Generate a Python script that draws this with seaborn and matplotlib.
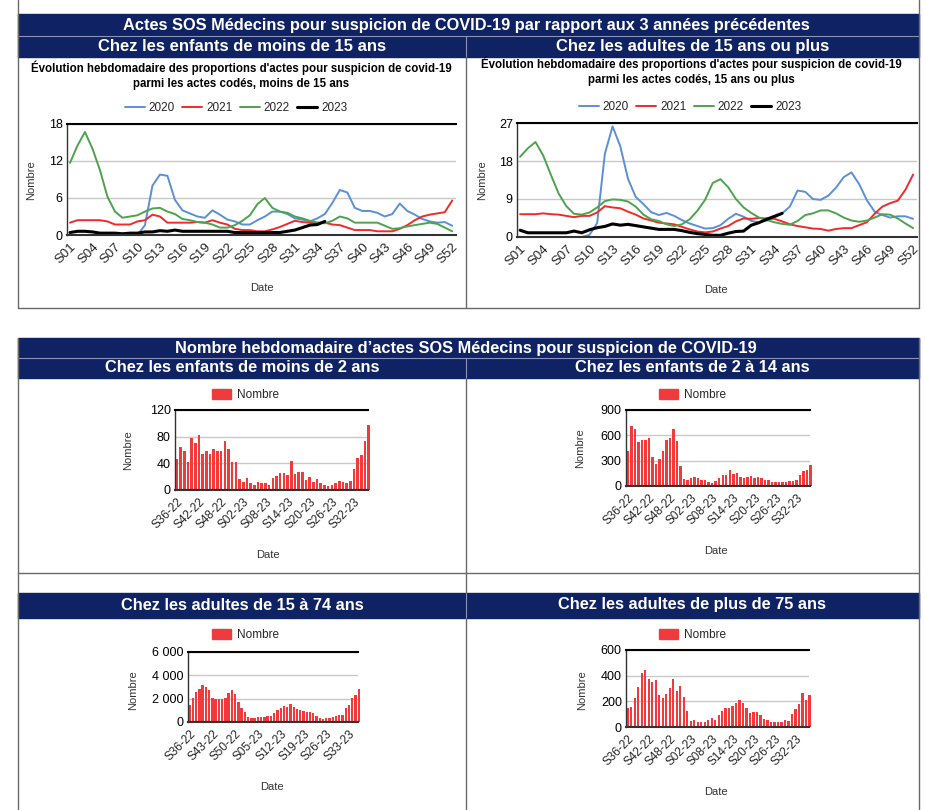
import numpy as np
import pandas as pd
import matplotlib
matplotlib.use('Agg')
import matplotlib.pyplot as plt
import seaborn as sns
from matplotlib.patches import Rectangle
from matplotlib.lines import Line2D

# figure size in pixels
W, H = 925, 810
NAVY = '#0f2263'
BAR = '#f03a3c'

# ---- weekly proportions (%), S01..S52 ----
semaines = ['S%02d' % i for i in range(1, 53)]

enf_2020 = [0, 0, 0, 0, 0, 0, 0, 0, 0, 0, 1.6, 8.0, 9.8, 9.6, 5.7, 4.0, 3.5, 3.0, 2.8, 4.0,
            3.3, 2.5, 2.2, 1.7, 1.7, 2.4, 3.0, 3.8, 3.8, 3.4, 2.7, 2.5, 2.2, 2.7, 3.4, 5.2,
            7.3, 6.9, 4.4, 3.9, 3.9, 3.6, 3.0, 3.4, 5.1, 3.9, 3.3, 2.6, 2.2, 2.0, 2.1, 1.5]
enf_2021 = [2.0, 2.4, 2.4, 2.4, 2.4, 2.2, 1.7, 1.7, 1.7, 2.2, 2.4, 3.3, 3.0, 2.0, 2.0, 2.0,
            2.0, 2.1, 2.0, 2.4, 2.0, 1.7, 1.0, 0.8, 0.8, 0.6, 0.6, 0.9, 1.3, 1.8, 2.3, 2.1,
            2.0, 2.0, 2.0, 1.7, 1.6, 1.2, 0.8, 0.8, 0.8, 0.6, 0.6, 0.6, 1.0, 1.6, 2.4, 3.0,
            3.3, 3.5, 3.7, 5.6]
enf_2022 = [11.7, 14.5, 16.7, 14.0, 10.5, 6.2, 3.8, 2.8, 3.0, 3.2, 3.8, 4.3, 4.4, 3.8, 3.4,
            2.6, 2.4, 2.1, 2.0, 1.7, 1.2, 1.2, 1.6, 2.3, 3.2, 5.0, 6.0, 4.4, 3.8, 3.6, 3.0,
            2.7, 2.3, 2.0, 1.9, 2.3, 3.0, 2.7, 2.0, 2.0, 2.0, 2.0, 1.5, 1.0, 1.1, 1.4, 1.6,
            1.8, 2.0, 1.8, 1.2, 0.6]
enf_2023 = [0.4, 0.6, 0.6, 0.5, 0.3, 0.3, 0.3, 0.2, 0.3, 0.3, 0.5, 0.5, 0.7, 0.6, 0.8, 0.6,
            0.6, 0.6, 0.6, 0.6, 0.6, 0.6, 0.4, 0.4, 0.4, 0.4, 0.4, 0.4, 0.4, 0.6, 0.8, 1.2,
            1.6, 1.7, 2.2]

adu_2020 = [0, 0, 0, 0, 0, 0, 0, 0, 0, 0.5, 3.3, 19.7, 26.2, 21.5, 13.8, 9.5, 7.8, 5.9, 5.2,
            5.7, 5.0, 4.0, 3.2, 2.6, 2.0, 2.1, 2.8, 4.3, 5.5, 4.8, 3.8, 3.5, 3.9, 4.6, 5.6,
            7.2, 11.0, 10.7, 9.0, 8.8, 9.8, 11.7, 14.2, 15.3, 12.5, 8.7, 6.0, 5.2, 4.6, 4.9,
            4.9, 4.3]
adu_2021 = [5.4, 5.4, 5.4, 5.6, 5.4, 5.3, 5.0, 4.7, 5.0, 5.0, 5.8, 7.3, 7.0, 6.8, 6.0, 5.3,
            4.4, 3.9, 3.4, 3.2, 3.0, 2.4, 1.8, 1.3, 1.1, 1.3, 2.0, 2.6, 3.7, 4.4, 4.3, 4.5,
            4.4, 4.3, 3.7, 3.0, 2.6, 2.3, 2.0, 1.9, 1.5, 1.9, 2.1, 2.1, 2.8, 3.5, 5.5, 7.2,
            8.0, 8.6, 11.2, 14.8]
adu_2022 = [19.0, 21.0, 22.5, 19.3, 14.7, 10.3, 7.3, 5.5, 5.3, 5.8, 7.0, 8.5, 8.9, 8.8, 8.4,
            7.2, 5.3, 4.2, 3.8, 3.0, 2.6, 3.0, 4.2, 6.2, 8.8, 12.8, 13.7, 11.8, 9.0, 7.0,
            5.7, 4.6, 4.0, 3.5, 3.1, 2.9, 3.8, 5.2, 5.6, 6.3, 6.3, 5.6, 4.6, 3.9, 3.6, 3.9,
            4.6, 5.4, 5.3, 4.4, 3.2, 2.1]
adu_2023 = [1.6, 1.0, 1.0, 1.0, 1.0, 1.0, 1.0, 1.4, 1.0, 1.7, 2.2, 2.5, 3.1, 2.8, 3.0, 2.7,
            2.4, 2.1, 1.8, 1.8, 1.8, 1.5, 1.1, 0.8, 0.6, 0.4, 0.4, 0.9, 1.3, 1.4, 2.8, 3.4,
            4.2, 4.9, 5.6]

annees = ['2020', '2021', '2022', '2023']
couleurs = ['#5b8fd6', '#f02a2a', '#4ea24e', '#000000']
epaisseurs = [1.4, 1.4, 1.4, 2.2]

# ---- weekly counts, S36-22..S36-23 ----
sem_barres = ['S%02d-22' % i for i in range(36, 53)] + ['S%02d-23' % i for i in range(1, 37)]

moins2 = [47, 65, 59, 42, 78, 71, 82, 54, 58, 54, 62, 58, 59, 73, 61, 42, 42, 17, 12, 18,
          10, 7, 12, 10, 10, 8, 18, 21, 25, 25, 23, 44, 24, 27, 27, 15, 19, 12, 16, 10,
          7, 6, 7, 11, 13, 12, 11, 13, 32, 48, 53, 73, 98]
de2a14 = [410, 710, 680, 525, 540, 545, 565, 345, 260, 315, 410, 545, 565, 680, 535, 240,
          80, 75, 100, 110, 95, 75, 70, 45, 35, 60, 90, 135, 135, 185, 145, 155, 110, 90,
          110, 120, 100, 110, 100, 75, 75, 45, 50, 50, 50, 50, 55, 65, 75, 130, 175, 190, 250]
de15a74 = [1500, 2070, 2590, 2800, 3210, 3020, 2750, 2070, 2010, 1930, 2010, 2040, 2500,
           2720, 2370, 1690, 1220, 900, 460, 350, 350, 460, 460, 460, 540, 520, 790, 1010,
           1200, 1390, 1280, 1550, 1280, 1120, 1060, 930, 900, 870, 730, 520, 380, 240,
           330, 330, 410, 520, 600, 630, 1220, 1470, 2100, 2340, 2800]
plus75 = [150, 155, 225, 313, 423, 443, 376, 352, 363, 248, 225, 256, 303, 373, 282, 316,
          235, 128, 45, 55, 40, 40, 40, 57, 68, 57, 97, 123, 151, 151, 162, 188, 214, 188,
          146, 112, 120, 120, 94, 63, 52, 42, 40, 40, 42, 57, 45, 105, 140, 180, 263, 210, 250]

sns.set_theme(style='white')
plt.rcParams['font.family'] = ['Liberation Sans', 'DejaVu Sans']

fig = plt.figure(figsize=(W / 100, H / 100), dpi=100)
bg = fig.add_axes([0, 0, 1, 1])
bg.set_xlim(0, W)
bg.set_ylim(H, 0)
bg.axis('off')


def px_axes(box):
    x0, y0, x1, y1 = box
    return fig.add_axes([x0 / W, 1 - y1 / H, (x1 - x0) / W, (y1 - y0) / H])


def set_labels(ax, box, ylab, xlab):
    x0, y0, x1, y1 = box
    ax.set_ylabel('Nombre', fontsize=8, color='#333333')
    ax.set_xlabel('Date', fontsize=8, color='#333333')
    ax.yaxis.set_label_coords((ylab[0] - x0) / (x1 - x0), (y1 - ylab[1]) / (y1 - y0))
    ax.xaxis.set_label_coords((xlab[0] - x0) / (x1 - x0), (y1 - xlab[1]) / (y1 - y0))
    ax.yaxis.label.set_va('center')
    ax.xaxis.label.set_va('center')


def style_axes(ax, xsize):
    ax.spines['right'].set_visible(False)
    ax.spines['top'].set_color('black')
    ax.spines['top'].set_linewidth(1.5)
    ax.spines['left'].set_color('#333333')
    ax.spines['left'].set_linewidth(1)
    ax.spines['bottom'].set_color('#333333')
    ax.spines['bottom'].set_linewidth(1.5)
    ax.yaxis.grid(True, color='#c8c8c8', lw=1)
    ax.set_axisbelow(True)
    ax.tick_params(axis='y', length=0, labelsize=9, pad=3, colors='black')
    ax.tick_params(axis='x', length=3, width=1, color='#333333', labelsize=xsize, pad=1)


# ---- table frames ----
line_col = '#6a6a6a'
sep_col = '#8a93b5'
bg.add_patch(Rectangle((18, 14), 901, 43, color=NAVY, zorder=1))
bg.plot([18, 919], [36, 36], color=sep_col, lw=0.8, zorder=2)
bg.plot([466, 466], [36, 57], color=sep_col, lw=0.8, zorder=2)
bg.plot([18, 18], [0, 308], color=line_col, lw=1)
bg.plot([919, 919], [0, 308], color=line_col, lw=1)
bg.plot([18, 919], [308, 308], color=line_col, lw=1)
bg.plot([466, 466], [57, 308], color=line_col, lw=1)

bg.add_patch(Rectangle((18, 338), 901, 40, color=NAVY, zorder=1))
bg.add_patch(Rectangle((18, 593), 901, 25, color=NAVY, zorder=1))
bg.plot([18, 919], [358, 358], color=sep_col, lw=0.8, zorder=2)
bg.plot([466, 466], [358, 378], color=sep_col, lw=0.8, zorder=2)
bg.plot([466, 466], [593, 618], color=sep_col, lw=0.8, zorder=2)
bg.plot([18, 18], [338, 810], color=line_col, lw=1)
bg.plot([919, 919], [338, 810], color=line_col, lw=1)
bg.plot([466, 466], [378, 593], color=line_col, lw=1)
bg.plot([466, 466], [618, 810], color=line_col, lw=1)
bg.plot([18, 919], [573, 573], color=line_col, lw=1)

hdr = dict(color='white', fontweight='bold', ha='center', va='center', zorder=3)
bg.text(466, 25.5, 'Actes SOS Médecins pour suspicion de COVID-19 par rapport aux 3 années précédentes',
        fontsize=11.8, **hdr)
bg.text(242, 46.5, 'Chez les enfants de moins de 15 ans', fontsize=12, **hdr)
bg.text(693, 46.5, 'Chez les adultes de 15 ans ou plus', fontsize=12, **hdr)
bg.text(466, 348, 'Nombre hebdomadaire d\u2019actes SOS Médecins pour suspicion de COVID-19',
        fontsize=11.8, **hdr)
bg.text(242, 368, 'Chez les enfants de moins de 2 ans', fontsize=11.8, **hdr)
bg.text(692, 368, 'Chez les enfants de 2 à 14 ans', fontsize=11.8, **hdr)
bg.text(242, 605, 'Chez les adultes de 15 à 74 ans', fontsize=11.8, **hdr)
bg.text(692, 605, 'Chez les adultes de plus de 75 ans', fontsize=11.8, **hdr)

ttl = dict(fontweight='bold', ha='center', va='center', fontsize=8.3, color='black')
bg.text(241, 68, 'Évolution hebdomadaire des proportions d\'actes pour suspicion de covid-19', **ttl)
bg.text(241, 84, 'parmi les actes codés, moins de 15 ans', **ttl)
bg.text(691, 64, 'Évolution hebdomadaire des proportions d\'actes pour suspicion de covid-19', **ttl)
bg.text(691, 80, 'parmi les actes codés, 15 ans ou plus', **ttl)

# ---- line charts ----
line_charts = [
    ((67, 124, 456, 235), [enf_2020, enf_2021, enf_2022, enf_2023], 18, (236, 108), (31, 180), (262, 288)),
    ((517, 123, 917, 237), [adu_2020, adu_2021, adu_2022, adu_2023], 27, (690, 107), (482, 180), (716, 290)),
]
for box, series, ymax, leg_xy, ylab, xlab in line_charts:
    ax = px_axes(box)
    for an, vals, c, lw in zip(annees, series, couleurs, epaisseurs):
        df = pd.DataFrame({'semaine': np.arange(len(vals)), 'valeur': vals})
        sns.lineplot(data=df, x='semaine', y='valeur', color=c, lw=lw, ax=ax, legend=False)
    ax.set_xlim(-0.4, 51.5)
    ax.set_ylim(0, ymax)
    ax.set_yticks(np.linspace(0, ymax, 4))
    ax.set_yticklabels([str(int(v)) for v in np.linspace(0, ymax, 4)])
    ax.set_xticks(range(0, 52, 3))
    ax.set_xticklabels(semaines[::3], rotation=45, ha='right', rotation_mode='anchor')
    style_axes(ax, 9.5)
    set_labels(ax, box, ylab, xlab)
    handles = [Line2D([], [], color=c, lw=lw) for c, lw in zip(couleurs, epaisseurs)]
    ax.legend(handles, annees, loc='center', ncol=4, frameon=False, fontsize=8.5,
              bbox_to_anchor=(leg_xy[0] / W, 1 - leg_xy[1] / H), bbox_transform=fig.transFigure,
              handlelength=1.7, handletextpad=0.35, columnspacing=0.6, borderpad=0)

# ---- bar charts ----
bar_charts = [
    ((175, 410, 368, 490), moins2, [0, 40, 80, 120], ['0', '40', '80', '120'], 6,
     (212, 395), (128, 450), (268, 555)),
    ((626, 410, 810, 486), de2a14, [0, 300, 600, 900], ['0', '300', '600', '900'], 6,
     (659, 395), (580, 448), (716, 551)),
    ((188, 652, 358, 722), de15a74, [0, 2000, 4000, 6000], ['0', '2 000', '4 000', '6 000'], 7,
     (212, 635), (133, 690), (272, 787)),
    ((626, 650, 809, 727), plus75, [0, 200, 400, 600], ['0', '200', '400', '600'], 6,
     (659, 635), (582, 690), (716, 792)),
]
for box, vals, yt, ytl, step, leg_xy, ylab, xlab in bar_charts:
    ax = px_axes(box)
    df = pd.DataFrame({'semaine': sem_barres, 'nombre': vals})
    sns.barplot(data=df, x='semaine', y='nombre', color=BAR, saturation=1, width=0.7, ax=ax)
    for p in ax.patches:
        p.set_clip_on(False)
        p.set_edgecolor('none')
    ax.set_xlim(-0.5, 51.8)
    ax.set_ylim(yt[0], yt[-1])
    ax.set_yticks(yt)
    ax.set_yticklabels(ytl)
    ax.set_xticks(range(0, len(vals), step))
    ax.set_xticklabels(sem_barres[::step], rotation=45, ha='right', rotation_mode='anchor')
    style_axes(ax, 8.5)
    set_labels(ax, box, ylab, xlab)
    ax.legend([Rectangle((0, 0), 1, 1, color=BAR)], ['Nombre'], loc='center left',
              bbox_to_anchor=(leg_xy[0] / W, 1 - leg_xy[1] / H), bbox_transform=fig.transFigure,
              frameon=False, fontsize=8.5, handlelength=1.6, handleheight=1.0,
              handletextpad=0.5, borderpad=0, borderaxespad=0)

fig.savefig('out.png', dpi=100)
